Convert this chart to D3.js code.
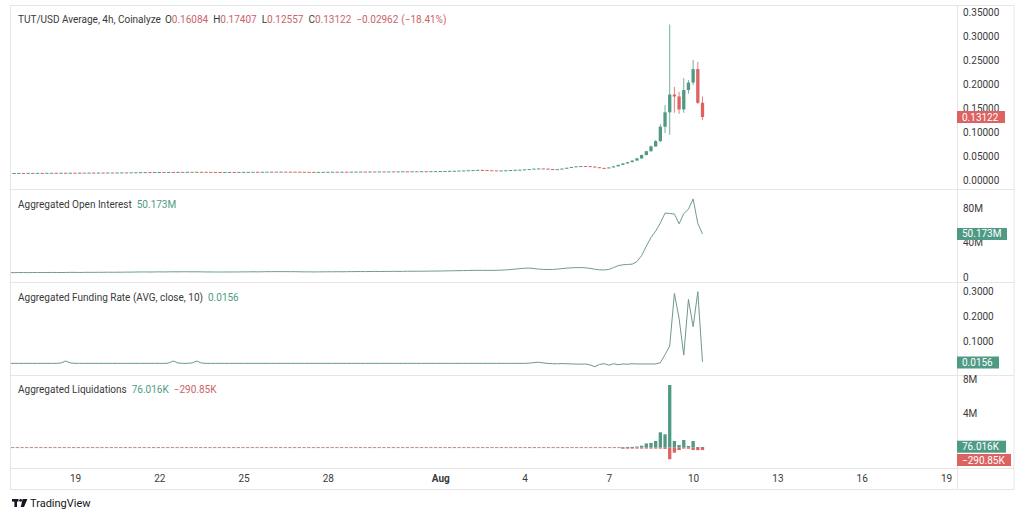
<!DOCTYPE html>
<html>
<head>
<meta charset="utf-8">
<script src="https://cdn.jsdelivr.net/npm/d3@7"></script>
<style>
  body { margin: 0; background: #fff; }
  svg text { font-family: Roboto, "Noto Sans", sans-serif; }
</style>
</head>
<body>
<svg id="chart" width="1024" height="517"></svg>
<script>
// ---- data (4h bars, first bar Jul 16 16:00 UTC) ----
const startTime = Date.UTC(2025, 6, 16, 16);
const barHours = 4;

// close of every 4h bar, one line per day
const closes = [
  0.0145, 0.0146,                                   // Jul 16
  0.0147, 0.0146, 0.0148, 0.0147, 0.0149, 0.0148,   // Jul 17
  0.0149, 0.0150, 0.0149, 0.0151, 0.0150, 0.0152,   // Jul 18
  0.0151, 0.0153, 0.0152, 0.0154, 0.0153, 0.0155,   // Jul 19
  0.0154, 0.0156, 0.0155, 0.0157, 0.0158, 0.0157,   // Jul 20
  0.0159, 0.0161, 0.0163, 0.0165, 0.0164, 0.0166,   // Jul 21
  0.0167, 0.0166, 0.0168, 0.0167, 0.0169, 0.0168,   // Jul 22
  0.0170, 0.0169, 0.0171, 0.0170, 0.0169, 0.0168,   // Jul 23
  0.0167, 0.0166, 0.0167, 0.0168, 0.0167, 0.0168,   // Jul 24
  0.0169, 0.0170, 0.0171, 0.0170, 0.0172, 0.0173,   // Jul 25
  0.0174, 0.0173, 0.0175, 0.0174, 0.0173, 0.0172,   // Jul 26
  0.0171, 0.0170, 0.0169, 0.0168, 0.0169, 0.0170,   // Jul 27
  0.0171, 0.0172, 0.0171, 0.0173, 0.0172, 0.0174,   // Jul 28
  0.0175, 0.0176, 0.0175, 0.0177, 0.0176, 0.0178,   // Jul 29
  0.0177, 0.0179, 0.0178, 0.0180, 0.0181, 0.0180,   // Jul 30
  0.0182, 0.0181, 0.0183, 0.0182, 0.0184, 0.0185,   // Jul 31
  0.0186, 0.0188, 0.0190, 0.0193, 0.0196, 0.0199,   // Aug 1
  0.0203, 0.0207, 0.0211, 0.0208, 0.0203, 0.0199,   // Aug 2
  0.0197, 0.0199, 0.0203, 0.0207, 0.0212, 0.0216,   // Aug 3
  0.0221, 0.0228, 0.0236, 0.0241, 0.0237, 0.0229,   // Aug 4
  0.0223, 0.0226, 0.0238, 0.0255, 0.0272, 0.0284,   // Aug 5
  0.0291, 0.0289, 0.0280, 0.0266, 0.0252, 0.0246,   // Aug 6
  0.0262, 0.0285, 0.0315, 0.0345, 0.0372, 0.0405,   // Aug 7
  0.0450, 0.0520, 0.0600, 0.0700, 0.0810, 0.1110,   // Aug 8
  0.1410, 0.1780, 0.1740, 0.1470, 0.1875, 0.2030,   // Aug 9
  0.2310, 0.16084, 0.13122                          // Aug 10
];

// wicks of the last 15 bars (Aug 8 00:00 .. Aug 10 08:00)
const wickHighs = [0.046, 0.053, 0.061, 0.072, 0.083, 0.116, 0.156, 0.324,
                   0.194, 0.184, 0.212, 0.208, 0.250, 0.246, 0.17407];
const wickLows  = [0.040, 0.044, 0.051, 0.059, 0.069, 0.079, 0.098, 0.094,
                   0.140, 0.138, 0.140, 0.180, 0.198, 0.158, 0.12557];

// aggregated open interest, millions
const openInterest = [
  5.1, 5.1,
  5.2, 5.2, 5.1, 5.2, 5.3, 5.2,
  5.2, 5.3, 5.3, 5.2, 5.3, 5.4,
  5.4, 5.3, 5.4, 5.5, 5.4, 5.5,
  5.5, 5.6, 5.5, 5.6, 5.6, 5.7,
  5.7, 5.8, 5.9, 5.9, 5.8, 5.9,
  6.0, 5.9, 6.0, 6.1, 6.0, 6.1,
  6.1, 6.0, 6.1, 6.0, 5.9, 5.9,
  5.8, 5.8, 5.9, 5.8, 5.9, 5.9,
  6.0, 6.0, 6.1, 6.0, 6.1, 6.2,
  6.2, 6.3, 6.2, 6.3, 6.2, 6.2,
  6.1, 6.0, 6.0, 5.9, 6.0, 6.0,
  6.1, 6.1, 6.2, 6.1, 6.2, 6.3,
  6.3, 6.4, 6.3, 6.4, 6.5, 6.4,
  6.5, 6.5, 6.6, 6.5, 6.6, 6.7,
  6.7, 6.8, 6.7, 6.8, 6.9, 6.9,
  7.0, 7.1, 7.2, 7.3, 7.4, 7.5,
  7.6, 7.7, 7.8, 7.8, 7.7, 7.7,
  7.8, 8.0, 8.3, 8.7, 9.2, 9.8,
  10.2, 10.4, 9.8, 9.2, 8.9, 8.7,
  8.8, 9.2, 9.8, 10.3, 10.7, 10.9,
  11.0, 10.7, 10.0, 9.1, 8.4, 8.2,
  8.8, 11.0, 13.2, 14.2, 14.6, 15.0,
  18.0, 25.0, 36.0, 46.0, 53.5, 63.0,
  74.5, 74.0, 73.5, 62.0, 74.0, 79.0,
  91.0, 62.5, 50.173
];

// aggregated funding rate (AVG, close, 10)
const fundingRate = [
  0.0095, 0.0096,
  0.0095, 0.0094, 0.0096, 0.0095, 0.0094, 0.0095,
  0.0096, 0.0095, 0.0094, 0.0110, 0.0190, 0.0112,
  0.0096, 0.0095, 0.0094, 0.0095, 0.0096, 0.0095,
  0.0095, 0.0094, 0.0095, 0.0096, 0.0095, 0.0094,
  0.0095, 0.0096, 0.0095, 0.0094, 0.0095, 0.0096,
  0.0095, 0.0094, 0.0108, 0.0192, 0.0110, 0.0095,
  0.0096, 0.0112, 0.0190, 0.0108, 0.0095, 0.0094,
  0.0095, 0.0096, 0.0095, 0.0094, 0.0095, 0.0096,
  0.0095, 0.0094, 0.0095, 0.0096, 0.0095, 0.0094,
  0.0095, 0.0096, 0.0095, 0.0094, 0.0095, 0.0096,
  0.0095, 0.0094, 0.0095, 0.0096, 0.0095, 0.0094,
  0.0095, 0.0096, 0.0095, 0.0094, 0.0095, 0.0096,
  0.0095, 0.0094, 0.0095, 0.0096, 0.0095, 0.0094,
  0.0095, 0.0096, 0.0095, 0.0094, 0.0095, 0.0096,
  0.0095, 0.0094, 0.0095, 0.0096, 0.0095, 0.0094,
  0.0095, 0.0096, 0.0095, 0.0094, 0.0095, 0.0096,
  0.0095, 0.0094, 0.0095, 0.0096, 0.0095, 0.0094,
  0.0095, 0.0096, 0.0095, 0.0094, 0.0095, 0.0096,
  0.0095, 0.0102, 0.0128, 0.0140, 0.0112, 0.0092,
  0.0082, 0.0076, 0.0086, 0.0080, 0.0072, 0.0066,
  0.0062, 0.0072, 0.0030, -0.0040, 0.0050, 0.0082,
  0.0022, 0.0082, 0.0040, 0.0072, 0.0060, 0.0080,
  0.0070, 0.0072, 0.0070, 0.0071, 0.0072, 0.0120,
  0.0450, 0.0800, 0.2930, 0.1920, 0.0430, 0.2690,
  0.1580, 0.3000, 0.0156
];

// aggregated liquidations, millions, from bar 131 (Aug 7 12:00)
const liqStartIndex = 131;
const liqLongs  = [0.03, 0.05, 0.08,
                   0.12, 0.22, 0.48, 0.55, 0.77, 1.78,
                   1.55, 7.30, 0.77, 0.30, 0.89, 0.19,
                   0.77, 0.05, 0.076016];
const liqShorts = [-0.02, -0.03, -0.03,
                   -0.04, -0.05, -0.06, -0.08, -0.10, -0.12,
                   -0.15, -1.36, -0.59, -0.28, -0.10, -0.13,
                   -0.28, -0.30, -0.29085];

// the zero ticks of funding and liquidations sit under the value tags
const priceTicks = [0, 0.05, 0.10, 0.15, 0.20, 0.25, 0.30, 0.35];
const oiTicks = [0, 40, 80];
const fundingTicks = [0.1, 0.2, 0.3];
const liqTicks = [4, 8];
const xTickDates = ['2025-07-19', '2025-07-22', '2025-07-25', '2025-07-28', '2025-08-01',
                    '2025-08-04', '2025-08-07', '2025-08-10', '2025-08-13', '2025-08-16', '2025-08-19'];
const xTickLabels = ['19', '22', '25', '28', 'Aug', '4', '7', '10', '13', '16', '19'];

// ---- drawing ----
const GREEN = '#4f9a85';
const RED = '#dd6262';
const TEXT = '#3a3a3a';
const BORDER = '#e6e6e6';

const svg = d3.select('#chart');
const plotLeft = 11, plotRight = 957, axisRight = 1014;
const topEdge = 5, xAxisTop = 468, xAxisBottom = 489;
const separators = [189, 282, 375, 468];

const barTime = i => new Date(startTime + i * barHours * 3600 * 1000);

const bars = closes.map((c, i) => {
  const o = i === 0 ? c : closes[i - 1];
  const w = i - (closes.length - wickHighs.length);
  return {
    time: barTime(i), open: o, close: c,
    high: w >= 0 ? wickHighs[w] : Math.max(o, c),
    low: w >= 0 ? wickLows[w] : Math.min(o, c)
  };
});

const x = d3.scaleUtc()
  .domain([new Date('2025-07-19T00:00Z'), new Date('2025-08-19T00:00Z')])
  .range([75, 946]);

const yPrice = d3.scaleLinear().domain([0, 0.35]).range([180, 12]);
const yOI = d3.scaleLinear().domain([0, 80]).range([277, 208.4]);
const yFund = d3.scaleLinear().domain([0, 0.3]).range([365.7, 291.7]);
const yLiq = d3.scaleLinear().domain([0, 8]).range([447.6, 379]);

// frame
svg.append('rect')
  .attr('x', 10.5).attr('y', topEdge + 0.5)
  .attr('width', axisRight - 10.5).attr('height', xAxisBottom - topEdge)
  .attr('fill', 'none').attr('stroke', BORDER);
separators.forEach(yy => {
  svg.append('line')
    .attr('x1', 10.5).attr('x2', axisRight)
    .attr('y1', yy + 0.5).attr('y2', yy + 0.5)
    .attr('stroke', BORDER);
});
svg.append('line')
  .attr('x1', plotRight + 0.5).attr('x2', plotRight + 0.5)
  .attr('y1', topEdge).attr('y2', xAxisBottom)
  .attr('stroke', BORDER);

svg.append('clipPath').attr('id', 'plot-clip')
  .append('rect')
  .attr('x', plotLeft).attr('y', topEdge)
  .attr('width', plotRight - plotLeft).attr('height', xAxisTop - topEdge);

const plot = svg.append('g').attr('clip-path', 'url(#plot-clip)');

// candles
const bodyW = 3.3;
const candle = plot.append('g').selectAll('g').data(bars).join('g');
candle.append('line')
  .attr('x1', d => x(d.time)).attr('x2', d => x(d.time))
  .attr('y1', d => yPrice(d.high)).attr('y2', d => yPrice(d.low))
  .attr('stroke', d => d.close >= d.open ? GREEN : RED)
  .attr('stroke-opacity', 0.8)
  .attr('stroke-width', 1);
candle.append('rect')
  .attr('x', d => x(d.time) - bodyW / 2)
  .attr('width', bodyW)
  .attr('y', d => yPrice(Math.max(d.open, d.close)))
  .attr('height', d => Math.max(1, Math.abs(yPrice(d.open) - yPrice(d.close))))
  .attr('fill', d => d.close >= d.open ? GREEN : RED);

// open interest
plot.append('path')
  .datum(openInterest)
  .attr('fill', 'none')
  .attr('stroke', '#6f9c90')
  .attr('stroke-width', 1)
  .attr('d', d3.line().x((d, i) => x(barTime(i))).y(d => yOI(d)));

// funding rate
plot.append('path')
  .datum(fundingRate)
  .attr('fill', 'none')
  .attr('stroke', '#6f978d')
  .attr('stroke-width', 1)
  .attr('d', d3.line().x((d, i) => x(barTime(i))).y(d => yFund(d)));

// liquidations zero line (tiny bars before the move)
plot.append('line')
  .attr('x1', plotLeft)
  .attr('x2', x(barTime(liqStartIndex)) - bodyW / 2)
  .attr('y1', yLiq(0)).attr('y2', yLiq(0))
  .attr('stroke', '#b98a80')
  .attr('stroke-width', 1)
  .attr('stroke-dasharray', '3.3,1.4');

const liq = liqLongs.map((v, k) => ({ time: barTime(liqStartIndex + k), long: v, short: liqShorts[k] }));
plot.append('g').selectAll('rect.long').data(liq).join('rect')
  .attr('class', 'long')
  .attr('x', d => x(d.time) - bodyW / 2)
  .attr('width', bodyW)
  .attr('y', d => yLiq(d.long))
  .attr('height', d => Math.max(1, yLiq(0) - yLiq(d.long)))
  .attr('fill', GREEN);
plot.append('g').selectAll('rect.short').data(liq).join('rect')
  .attr('class', 'short')
  .attr('x', d => x(d.time) - bodyW / 2)
  .attr('width', bodyW)
  .attr('y', yLiq(0))
  .attr('height', d => Math.max(1, yLiq(d.short) - yLiq(0)))
  .attr('fill', RED);

// right axes
function rightAxis(scale, ticks, fmt) {
  const g = svg.append('g')
    .attr('transform', `translate(${plotRight},0)`)
    .call(d3.axisRight(scale).tickValues(ticks).tickFormat(fmt).tickSize(0).tickPadding(6));
  g.select('.domain').remove();
  g.selectAll('text')
    .attr('fill', TEXT)
    .style('font-family', 'Roboto, "Noto Sans", sans-serif')
    .style('font-size', '10px');
  return g;
}
rightAxis(yPrice, priceTicks, d3.format('.5f'));
rightAxis(yOI, oiTicks, d => d === 0 ? '0' : d + 'M');
rightAxis(yFund, fundingTicks, d3.format('.4f'));
rightAxis(yLiq, liqTicks, d => d + 'M');

// last-value tags
function tag(yy, label, color, w) {
  svg.append('rect')
    .attr('x', plotRight).attr('y', yy - 6)
    .attr('width', w).attr('height', 12)
    .attr('fill', color);
  svg.append('text')
    .attr('x', plotRight + 5).attr('y', yy)
    .attr('dy', '0.35em')
    .attr('fill', '#fff')
    .style('font-size', '10px')
    .text(label);
}
tag(yPrice(closes[closes.length - 1]), '0.13122', RED, 48);
tag(yOI(openInterest[openInterest.length - 1]), '50.173M', GREEN, 50);
tag(362.5, '0.0156', GREEN, 42);
tag(446.7, '76.016K', GREEN, 49);
tag(460, '\u2212290.85K', RED, 54);

// x axis
const xg = svg.append('g')
  .attr('transform', `translate(0,${xAxisTop})`)
  .call(d3.axisBottom(x)
    .tickValues(xTickDates.map(d => new Date(d + 'T00:00Z')))
    .tickFormat((d, i) => xTickLabels[i])
    .tickSize(0).tickPadding(7));
xg.select('.domain').remove();
xg.selectAll('text')
  .attr('fill', TEXT)
  .style('font-family', 'Roboto, "Noto Sans", sans-serif')
  .style('font-size', '10px')
  .style('font-weight', (d, i) => xTickLabels[i] === 'Aug' ? 'bold' : 'normal');

// legends
function legend(yy, parts) {
  const t = svg.append('text').attr('x', 18).attr('y', yy).style('font-size', '10px');
  parts.forEach((p, k) => {
    t.append('tspan')
      .attr('dx', k === 0 ? 0 : p[2])
      .attr('fill', p[1])
      .text(p[0]);
  });
}
const LRED = '#c9646a';
const LGREEN = '#4f9a85';
legend(23, [['TUT/USD Average, 4h, Coinalyze', TEXT], ['O', TEXT, 4], ['0.16084', LRED, 0],
            ['H', TEXT, 5], ['0.17407', LRED, 0], ['L', TEXT, 5], ['0.12557', LRED, 0],
            ['C', TEXT, 5], ['0.13122', LRED, 0], ['\u22120.02962', LRED, 5], ['(\u221218.41%)', LRED, 3]]);
legend(208, [['Aggregated Open Interest', TEXT], ['50.173M', LGREEN, 5]]);
legend(301, [['Aggregated Funding Rate (AVG, close, 10)', TEXT], ['0.0156', LGREEN, 5]]);
legend(393, [['Aggregated Liquidations', TEXT], ['76.016K', LGREEN, 5], ['\u2212290.85K', LRED, 5]]);

// TradingView mark
const logo = svg.append('g').attr('fill', '#131722');
logo.append('rect').attr('x', 12).attr('y', 499).attr('width', 6.5).attr('height', 2.6);
logo.append('rect').attr('x', 14.4).attr('y', 499).attr('width', 2.6).attr('height', 8);
logo.append('circle').attr('cx', 20.6).attr('cy', 500.4).attr('r', 1.4);
logo.append('path').attr('d', 'M22.6,499 L27.4,499 L24,507 L20.8,507 Z');
svg.append('text')
  .attr('x', 30).attr('y', 507)
  .attr('fill', '#131722')
  .style('font-size', '11px')
  .text('TradingView');
</script>
</body>
</html>
